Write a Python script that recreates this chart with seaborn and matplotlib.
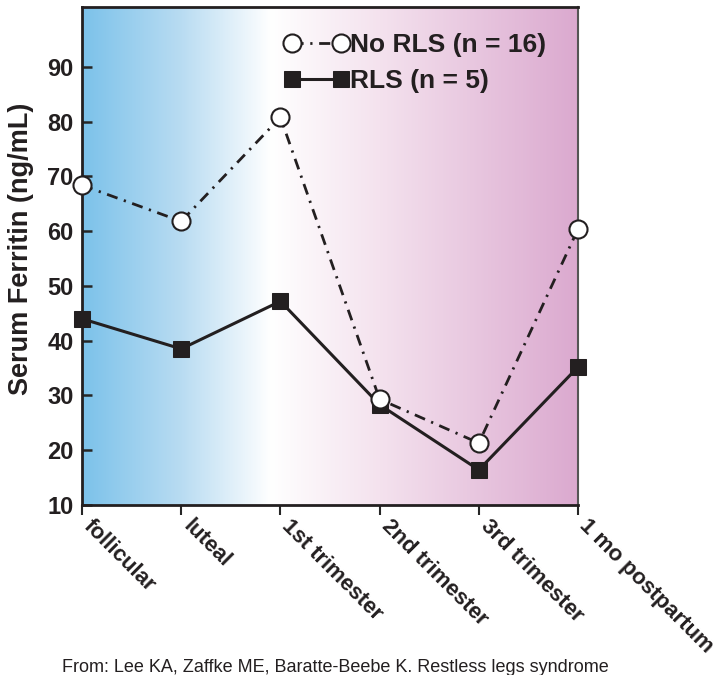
import numpy as np
import pandas as pd
import matplotlib
matplotlib.use("Agg")
import matplotlib.pyplot as plt
from matplotlib.colors import LinearSegmentedColormap
from matplotlib.transforms import ScaledTranslation
import seaborn as sns

# data
stages = ["follicular", "luteal", "1st trimester", "2nd trimester",
          "3rd trimester", "1 mo postpartum"]
no_rls = [68.4, 61.8, 80.8, 29.3, 21.3, 60.4]
rls = [44.0, 38.5, 47.2, 28.3, 16.4, 35.2]
y_ticks = [10, 20, 30, 40, 50, 60, 70, 80, 90]

df = pd.DataFrame({
    "pos": np.arange(len(stages)),
    "stage": stages,
    "No RLS (n = 16)": no_rls,
    "RLS (n = 5)": rls,
})

sns.set_theme(style="ticks")
plt.rcParams["font.family"] = ["Liberation Sans", "DejaVu Sans"]
ink = "#231f20"

fig = plt.figure(figsize=(7.22, 6.75), dpi=100)
ax = fig.add_axes([0.1136, 0.252, 0.687, 0.738])

# horizontal blue -> white -> pink background
grad = LinearSegmentedColormap.from_list(
    "bg", [(0.0, "#7cc2ea"), (0.2, "#b9dcf2"), (0.38, "#ffffff"),
           (0.6, "#f4e2ee"), (1.0, "#dba9cf")])
ax.imshow(np.linspace(0, 1, 256)[None, :], cmap=grad, aspect="auto",
          extent=(0, len(stages) - 1, 10, 101), zorder=0)

sns.lineplot(data=df, x="pos", y="RLS (n = 5)", ax=ax, color=ink,
             lw=2.2, marker="s", markersize=11, markeredgecolor=ink,
             markerfacecolor=ink, label="RLS (n = 5)", zorder=3,
             clip_on=False)
sns.lineplot(data=df, x="pos", y="No RLS (n = 16)", ax=ax, color=ink,
             lw=2.0, marker="o", markersize=13, markeredgecolor=ink,
             markeredgewidth=1.5, markerfacecolor="white",
             linestyle=(0, (4.0, 2.4, 0.8, 2.4)),
             label="No RLS (n = 16)", zorder=4, clip_on=False)

ax.set_xlim(0, len(stages) - 1)
ax.set_ylim(10, 101)
ax.set_xticks(df["pos"])
ax.set_yticks(y_ticks)
ax.tick_params(axis="y", direction="in", length=7, width=1.8, pad=6)
ax.tick_params(axis="x", direction="out", length=7, width=1.5, pad=6)
ax.set_xticklabels(stages, rotation=-45, ha="left", va="center",
                   rotation_mode="anchor", fontsize=16, fontweight="bold",
                   color=ink)
ax.set_yticklabels([str(v) for v in y_ticks], fontsize=17,
                   fontweight="bold", color=ink)
# nudge the slanted labels a little to the right of their ticks
# (after tick_params, which would reset the label transforms)
shift = ScaledTranslation(3.5 / 72, 0, fig.dpi_scale_trans)
for lbl in ax.get_xticklabels():
    lbl.set_transform(lbl.get_transform() + shift)
ax.set_xlabel("")
ax.set_ylabel("Serum Ferritin (ng/mL)", fontsize=19.5, fontweight="bold",
              color=ink)
ax.yaxis.set_label_coords(-0.097, 0.515)

for side in ["left", "bottom", "top"]:
    ax.spines[side].set_linewidth(2.0)
    ax.spines[side].set_color(ink)
ax.spines["right"].set_linewidth(1.5)
ax.spines["right"].set_color("#555555")

handles, labels = ax.get_legend_handles_labels()
leg = ax.legend(handles[::-1], labels[::-1], loc="upper left",
                bbox_to_anchor=(0.36, 0.995), frameon=False, numpoints=2,
                handlelength=2.45, handletextpad=0.05, labelspacing=0.45,
                prop={"weight": "bold", "size": 19})
for t in leg.get_texts():
    t.set_color(ink)

fig.text(0.086, 0.0044,
         "From: Lee KA, Zaffke ME, Baratte-Beebe K. Restless legs syndrome",
         ha="left", va="baseline", fontsize=13.0, color=ink)

fig.savefig("out.png", dpi=100)
